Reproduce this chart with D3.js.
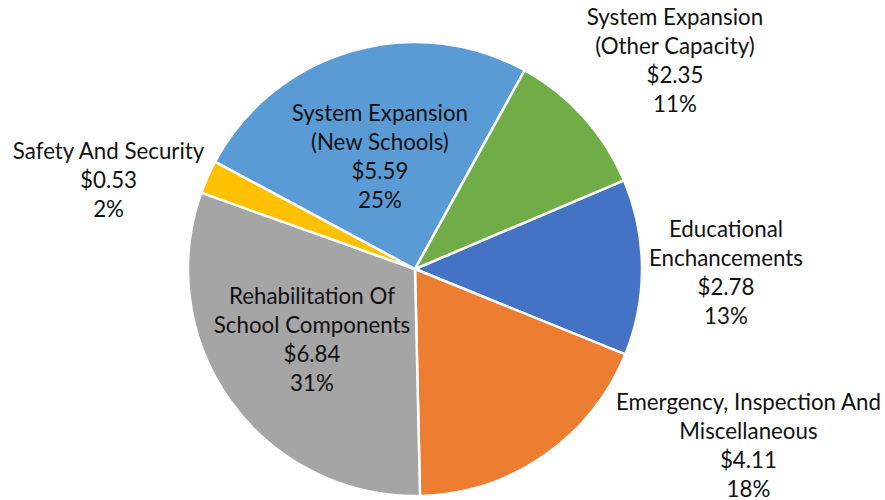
<!DOCTYPE html>
<html>
<head>
<meta charset="utf-8">
<script src="https://cdn.jsdelivr.net/npm/d3@7"></script>
<style>
  html, body { margin: 0; padding: 0; background: #fff; }
  svg { display: block; }
  text { font-family: Lato, "Liberation Sans", sans-serif; }
</style>
</head>
<body>
<svg id="chart" width="885" height="500"></svg>
<script>
// ---- Data ----
const categories = [
  "Educational Enchancements",
  "Emergency, Inspection And Miscellaneous",
  "Rehabilitation Of School Components",
  "Safety And Security",
  "System Expansion (New Schools)",
  "System Expansion (Other Capacity)"
];
const labelLines = [
  ["Educational", "Enchancements"],
  ["Emergency, Inspection And", "Miscellaneous"],
  ["Rehabilitation Of", "School Components"],
  ["Safety And Security"],
  ["System Expansion", "(New Schools)"],
  ["System Expansion", "(Other Capacity)"]
];
const values = [2.78, 4.11, 6.84, 0.53, 5.59, 2.35];
const percentLabels = ["13%", "18%", "31%", "2%", "25%", "11%"];
const colors = ["#4472C4", "#ED7D31", "#A5A5A5", "#FFC000", "#5B9BD5", "#70AD47"];

// label placement: radial factor (of radius) and nudges
const labelRadial = [1.37, 1.4, 0.5, 1.4, 0.5, 1.4];
const labelNudge = [[0, 6], [153, -85], [-11, 5], [-16, 40], [-3, -3], [24, 5]];

// ---- Layout ----
const svg = d3.select("#chart");
const cx = 415, cy = 269, R = 227;
const start = 67 * Math.PI / 180;

const pie = d3.pie().sort(null).value(d => d.value)
  .startAngle(start).endAngle(start + 2 * Math.PI);
const data = categories.map((c, i) => ({ name: c, value: values[i], i }));
const arcs = pie(data);

const arc = d3.arc().innerRadius(0).outerRadius(R);

const g = svg.append("g").attr("transform", `translate(${cx},${cy})`);

g.selectAll("path.slice").data(arcs).enter().append("path")
  .attr("class", "slice")
  .attr("d", arc)
  .attr("fill", d => colors[d.data.i])
  .attr("stroke", "#fff")
  .attr("stroke-width", 2.5)
  .attr("stroke-linejoin", "round");

const fontSize = 22.3, lineH = 29, capOff = 7.5;

arcs.forEach(d => {
  const i = d.data.i;
  const mid = (d.startAngle + d.endAngle) / 2;
  const rr = R * labelRadial[i];
  const x = Math.sin(mid) * rr + labelNudge[i][0];
  const y = -Math.cos(mid) * rr + labelNudge[i][1];
  const lines = labelLines[i].concat(["$" + values[i].toFixed(2), percentLabels[i]]);
  const n = lines.length;
  const t = g.append("text")
    .attr("text-anchor", "middle")
    .attr("font-size", fontSize)
    .attr("fill", "#111");
  lines.forEach((ln, k) => {
    t.append("tspan")
      .attr("x", x)
      .attr("y", y + (k - (n - 1) / 2) * lineH + capOff)
      .text(ln);
  });
});
</script>
</body>
</html>
